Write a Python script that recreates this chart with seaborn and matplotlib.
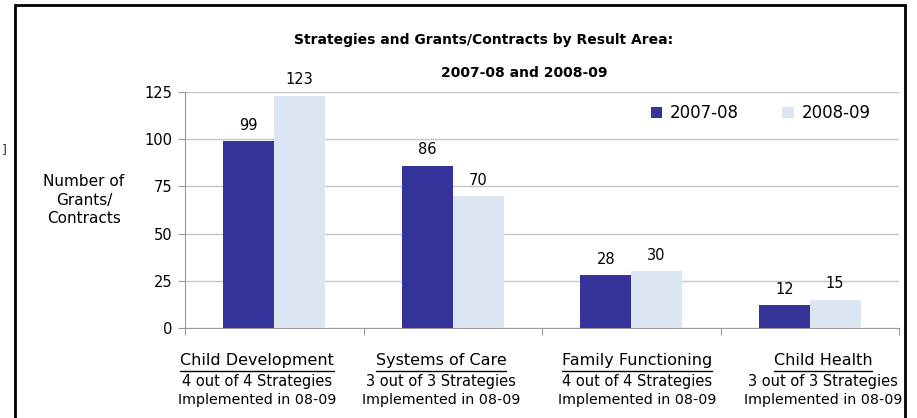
import matplotlib
matplotlib.use('Agg')
import matplotlib.pyplot as plt
from matplotlib.patches import Rectangle
from matplotlib.lines import Line2D
import seaborn as sns
import pandas as pd

# data
areas = ['Child Development', 'Systems of Care', 'Family Functioning', 'Child Health']
notes = ['4 out of 4 Strategies', '3 out of 3 Strategies', '4 out of 4 Strategies', '3 out of 3 Strategies']
years = ['2007-08', '2008-09']
counts_0708 = [99, 86, 28, 12]
counts_0809 = [123, 70, 30, 15]

df = pd.DataFrame({
    'area': areas * 2,
    'year': [years[0]] * 4 + [years[1]] * 4,
    'count': counts_0708 + counts_0809,
})

sns.set_style('white')
plt.rcParams['font.family'] = ['DejaVu Sans']
plt.rcParams['text.color'] = 'black'
plt.rcParams['ytick.labelcolor'] = 'black'

fig = plt.figure(figsize=(9.17, 4.18), dpi=100)
ax = fig.add_axes([185 / 917, 1 - 328 / 418, 714 / 917, 236 / 418])

palette = {'2007-08': '#333399', '2008-09': '#DCE6F2'}
sns.barplot(data=df, x='area', y='count', hue='year', palette=palette,
            width=0.57, gap=0, saturation=1, linewidth=0, ax=ax, zorder=3, legend=True)

ax.set_ylim(0, 125)
ax.set_yticks([0, 25, 50, 75, 100, 125])
ax.set_xlim(-0.5, 3.5)
ax.yaxis.grid(True, color='#c6c6c6', lw=1)
ax.set_axisbelow(True)
for s in ['top', 'right']:
    ax.spines[s].set_visible(False)
for s in ['left', 'bottom']:
    ax.spines[s].set_color('#9a9a9a')
ax.tick_params(axis='y', left=True, length=5, color='#9a9a9a', labelsize=10.5, pad=4)
ax.set_xticks([-0.5, 0.5, 1.5, 2.5, 3.5])
ax.set_xticklabels([])
ax.tick_params(axis='x', bottom=True, length=5, color='#9a9a9a')
ax.set_xlabel('')
ax.set_ylabel('')

# value labels
for cont in ax.containers:
    ax.bar_label(cont, padding=6, fontsize=10.5, clip_on=False)

# y axis title
fig.text(84 / 917, 1 - 200 / 418, 'Number of\nGrants/\nContracts', ha='center', va='center',
         fontsize=11, linespacing=1.3)

# title
fig.text(484 / 917, 1 - 40 / 418, 'Strategies and Grants/Contracts by Result Area:',
         ha='center', va='center', fontsize=10, fontweight='bold')
fig.text(524 / 917, 1 - 73 / 418, '2007-08 and 2008-09',
         ha='center', va='center', fontsize=10, fontweight='bold')

# legend
ax.legend(loc='center left', bbox_to_anchor=(0.643, 0.91), ncol=2, frameon=False,
          fontsize=12, handlelength=0.7, handleheight=0.7, handletextpad=0.45,
          columnspacing=2.6, borderaxespad=0)

# category labels (slightly spread out in the original), first line underlined
label_x = [-0.097, 0.934, 2.032, 3.074]
tr = ax.get_xaxis_transform()
heads = []
for x, a, n in zip(label_x, areas, notes):
    heads.append(ax.text(x, -0.136, a, transform=tr, ha='center', va='center', fontsize=11.5))
    ax.text(x, -0.225, n, transform=tr, ha='center', va='center', fontsize=10.5)
    ax.text(x, -0.305, 'Implemented in 08-09', transform=tr, ha='center', va='center', fontsize=10.3)

fig.canvas.draw()
r = fig.canvas.get_renderer()
for t in heads:
    bb = t.get_window_extent(r).transformed(fig.transFigure.inverted())
    fig.add_artist(Line2D([bb.x0, bb.x1], [1 - 371 / 418] * 2, color='black', lw=1))

# outer frame
fig.add_artist(Rectangle((15 / 917, -0.05), 890 / 917, 1.05 - 5 / 418, fill=False,
                         edgecolor='black', lw=2, transform=fig.transFigure))
fig.text(2 / 917, 1 - 150 / 418, ']', fontsize=9, va='center', color='#333333')

fig.savefig('out.png', dpi=100)
